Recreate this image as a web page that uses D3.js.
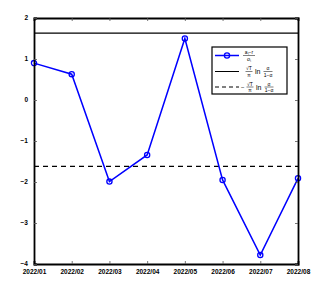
<!DOCTYPE html>
<html>
<head>
<meta charset="utf-8">
<script src="https://cdn.jsdelivr.net/npm/d3@7"></script>
<style>
  body { margin: 0; background: #fff; }
  text { font-family: "Liberation Sans", Arial, sans-serif; }
</style>
</head>
<body>
<div id="chart"></div>
<script>
// 数据
const months = ["2022/01", "2022/02", "2022/03", "2022/04", "2022/05", "2022/06", "2022/07", "2022/08"];
const values = [0.9, 0.63, -1.99, -1.34, 1.5, -1.95, -3.78, -1.91];
const upperBound = 1.63;
const lowerBound = -1.62;
const yTicks = [-4, -3, -2, -1, 0, 1, 2];

const W = 332, H = 288;
const margin = {top: 18, right: 34, bottom: 24, left: 34};
const width = W - margin.left - margin.right,
      height = H - margin.top - margin.bottom;

const svg = d3.select("#chart").append("svg")
  .attr("width", W).attr("height", H);
const g = svg.append("g").attr("transform", `translate(${margin.left},${margin.top})`);

const x = d3.scalePoint().domain(months).range([0, width]);
const y = d3.scaleLinear().domain([-4, 2]).range([height, 0]);

// 参考线
g.append("line")
  .attr("x1", 0).attr("x2", width)
  .attr("y1", y(upperBound)).attr("y2", y(upperBound))
  .attr("stroke", "#000").attr("stroke-width", 1.3);
g.append("line")
  .attr("x1", 0).attr("x2", width)
  .attr("y1", y(lowerBound)).attr("y2", y(lowerBound))
  .attr("stroke", "#000").attr("stroke-width", 1.3)
  .attr("stroke-dasharray", "5,4");

// 折线
const pts = months.map((m, i) => ({m, v: values[i]}));
g.append("path").datum(pts)
  .attr("fill", "none").attr("stroke", "#0000ff").attr("stroke-width", 1.5)
  .attr("d", d3.line().x(d => x(d.m)).y(d => y(d.v)));
g.selectAll(".pt").data(pts).enter().append("circle")
  .attr("cx", d => x(d.m)).attr("cy", d => y(d.v)).attr("r", 2.6)
  .attr("fill", "none").attr("stroke", "#0000ff").attr("stroke-width", 1.3);

// 坐标轴 (内向刻度, 四周都有)
const tl = 3;
const axB = g.append("g").attr("transform", `translate(0,${height})`)
  .call(d3.axisBottom(x).tickSize(-tl).tickPadding(5));
const axT = g.append("g").call(d3.axisTop(x).tickSize(-tl).tickFormat(""));
const axL = g.append("g").call(d3.axisLeft(y).tickValues(yTicks).tickSize(-tl).tickPadding(6)
  .tickFormat(d => d < 0 ? "\u2212" + Math.abs(d) : d));
const axR = g.append("g").attr("transform", `translate(${width},0)`)
  .call(d3.axisRight(y).tickValues(yTicks).tickSize(-tl).tickFormat(""));
[axB, axT, axL, axR].forEach(a => {
  a.select(".domain").attr("stroke", "#000").attr("stroke-width", 1.8);
  a.selectAll(".tick line").attr("stroke", "#555").attr("stroke-width", 0.8);
  a.selectAll("text").attr("font-size", 6.5).attr("font-weight", "bold")
    .attr("fill", "#000").style("font-family", "'Liberation Sans', Arial, sans-serif");
});
axL.selectAll("text").attr("dy", "0.2em");

// 图例
const lg = svg.append("g").attr("transform", "translate(212,47)");
lg.append("rect").attr("width", 75).attr("height", 47)
  .attr("fill", "#fff").attr("stroke", "#000").attr("stroke-width", 1.2);
const rows = [8.5, 24.5, 40];
lg.append("line").attr("x1", 3).attr("x2", 27).attr("y1", rows[0]).attr("y2", rows[0])
  .attr("stroke", "#0000ff").attr("stroke-width", 1.5);
lg.append("circle").attr("cx", 15).attr("cy", rows[0]).attr("r", 2.6)
  .attr("fill", "none").attr("stroke", "#0000ff").attr("stroke-width", 1.3);
lg.append("line").attr("x1", 3).attr("x2", 27).attr("y1", rows[1]).attr("y2", rows[1])
  .attr("stroke", "#000").attr("stroke-width", 1);
lg.append("line").attr("x1", 3).attr("x2", 27).attr("y1", rows[2]).attr("y2", rows[2])
  .attr("stroke", "#000").attr("stroke-width", 1).attr("stroke-dasharray", "4,3");

function frac(parent, cx, cy, num, den, w) {
  parent.append("text").attr("x", cx).attr("y", cy - 1.5).attr("text-anchor", "middle")
    .attr("font-size", 5).attr("font-family", "'Liberation Serif', serif").text(num);
  parent.append("line").attr("x1", cx - w / 2).attr("x2", cx + w / 2)
    .attr("y1", cy).attr("y2", cy).attr("stroke", "#000").attr("stroke-width", 0.5);
  parent.append("text").attr("x", cx).attr("y", cy + 5).attr("text-anchor", "middle")
    .attr("font-size", 5).attr("font-family", "'Liberation Serif', serif").text(den);
}
function txt(parent, x0, y0, s, fs) {
  parent.append("text").attr("x", x0).attr("y", y0).attr("font-size", fs)
    .attr("font-family", "'Liberation Serif', serif").text(s);
}
frac(lg, 37, rows[0], "a\u209C\u2212r", "\u03C3\u209C", 12);
txt(lg, 29, rows[1] + 2, "", 6);
frac(lg, 37, rows[1], "\u221AT", "\u03C0", 7);
txt(lg, 43, rows[1] + 2.5, "ln", 7);
frac(lg, 56, rows[1], "\u03B1", "1\u2212\u03B1", 9);
txt(lg, 29, rows[2] + 2, "\u2212", 6);
frac(lg, 38, rows[2], "\u221AT", "\u03C0", 7);
txt(lg, 44, rows[2] + 2.5, "ln", 7);
frac(lg, 57, rows[2], "\u03B1", "1\u2212\u03B1", 9);
</script>
</body>
</html>
